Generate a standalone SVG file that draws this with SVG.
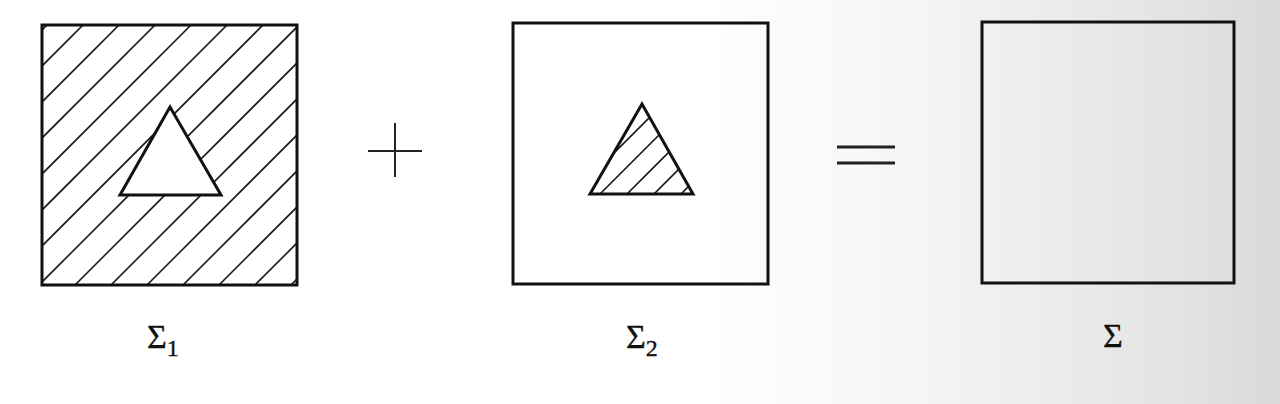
<svg xmlns="http://www.w3.org/2000/svg" width="1280" height="404" viewBox="0 0 1280 404">
  <style>
    .box { fill: none; stroke: #111; stroke-width: 3; }
    .tri { fill: #fff; stroke: #111; stroke-width: 3; stroke-linejoin: miter; }
    .trio { fill: none; stroke: #111; stroke-width: 3; stroke-linejoin: miter; }
    .hatch { stroke: #1a1a1a; stroke-width: 1.6; fill: none; }
    .op { stroke: #222; fill: none; }
    .lbl { font-family: "Liberation Serif", "DejaVu Serif", serif; fill: #111; stroke: #111; stroke-width: 0.35; }
  </style>
  <defs>
    <linearGradient id="paper" x1="0" y1="0" x2="1" y2="0">
      <stop offset="0" stop-color="#ffffff"/>
      <stop offset="0.55" stop-color="#ffffff"/>
      <stop offset="0.7" stop-color="#f6f6f6"/>
      <stop offset="0.82" stop-color="#ececec"/>
      <stop offset="0.92" stop-color="#e3e3e3"/>
      <stop offset="1" stop-color="#d9d9d9"/>
    </linearGradient>
    <clipPath id="clip1">
      <rect x="42" y="25" width="255" height="260"/>
    </clipPath>
    <clipPath id="clip2">
      <polygon points="642,104 590,194 693,194"/>
    </clipPath>
  </defs>
  <rect width="1280" height="404" fill="url(#paper)"/>

  <g id="sigma1">
    <g clip-path="url(#clip1)" class="hatch">
      <line x1="0" y1="72" x2="72" y2="0"/>
      <line x1="0" y1="108" x2="108" y2="0"/>
      <line x1="0" y1="144" x2="144" y2="0"/>
      <line x1="0" y1="180" x2="180" y2="0"/>
      <line x1="0" y1="216" x2="216" y2="0"/>
      <line x1="0" y1="252" x2="252" y2="0"/>
      <line x1="0" y1="288" x2="288" y2="0"/>
      <line x1="0" y1="324" x2="324" y2="0"/>
      <line x1="0" y1="360" x2="360" y2="0"/>
      <line x1="0" y1="396" x2="396" y2="0"/>
      <line x1="0" y1="432" x2="432" y2="0"/>
      <line x1="0" y1="468" x2="468" y2="0"/>
      <line x1="0" y1="504" x2="504" y2="0"/>
      <line x1="0" y1="540" x2="540" y2="0"/>
      <line x1="0" y1="576" x2="576" y2="0"/>
    </g>
    <rect class="box" x="42" y="25" width="255" height="260"/>
    <polygon class="tri" points="170,107 120,195 221,195"/>
    <text class="lbl" x="147" y="348" font-size="34">Σ<tspan font-size="24" dy="8">1</tspan></text>
  </g>

  <g id="plus">
    <line class="op" x1="368" y1="151" x2="422" y2="151" stroke-width="2"/>
    <line class="op" x1="395" y1="123" x2="395" y2="177" stroke-width="2"/>
  </g>

  <g id="sigma2">
    <rect class="box" x="513" y="23" width="255" height="261"/>
    <g clip-path="url(#clip2)" class="hatch">
      <line x1="567" y1="200" x2="767" y2="0"/>
      <line x1="594" y1="200" x2="794" y2="0"/>
      <line x1="621" y1="200" x2="821" y2="0"/>
      <line x1="648" y1="200" x2="848" y2="0"/>
      <line x1="675" y1="200" x2="875" y2="0"/>
    </g>
    <polygon class="trio" points="642,104 590,194 693,194"/>
    <text class="lbl" x="626" y="348" font-size="34">Σ<tspan font-size="24" dy="8">2</tspan></text>
  </g>

  <g id="equals">
    <line class="op" x1="837" y1="147" x2="895" y2="147" stroke-width="3"/>
    <line class="op" x1="837" y1="163" x2="895" y2="163" stroke-width="3"/>
  </g>

  <g id="sigma">
    <rect class="box" x="982" y="22" width="252" height="261"/>
    <text class="lbl" x="1103" y="347" font-size="34">Σ</text>
  </g>
</svg>
